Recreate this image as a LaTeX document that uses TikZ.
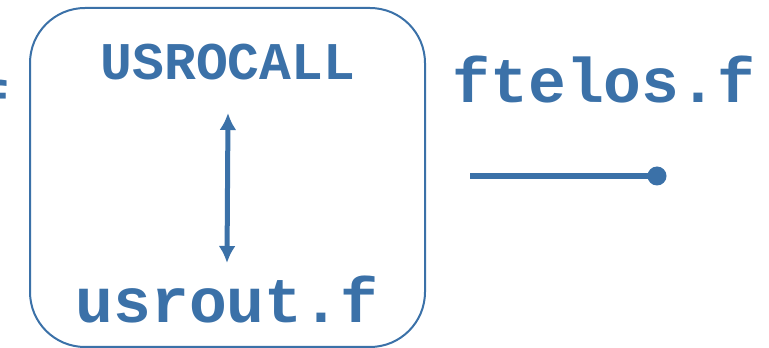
\documentclass[tikz,border=0pt]{standalone}
\usepackage{fontspec}
\setmonofont{Liberation Mono}
\usetikzlibrary{arrows.meta}
\definecolor{fblue}{RGB}{59,113,168}

\begin{document}
\begin{tikzpicture}[x=1pt,y=1pt,every node/.style={inner sep=0pt,text=fblue,font=\ttfamily\bfseries},
				big/.style={font=\fontsize{63}{63}\selectfont\ttfamily\bfseries},
				small/.style={font=\fontsize{53}{53}\selectfont\ttfamily\bfseries},
				duplex/.style={draw=fblue,line width=5pt,{Latex[length=17pt,width=17pt]}-{Latex[length=17pt,width=17pt]}}
				]
				\useasboundingbox (0,0) rectangle (769,348);
				% the box round the call
				\draw[fblue,line width=2pt,rounded corners=55pt] (30,1) rectangle (425,340);
				\node[big,anchor=base west](prev) at (-28,221) {f};
				\node[small,anchor=base](call) at (228,268) {USROCALL};
				\node[big,anchor=base](usrout) at (227,25) {usrout.f};
				\node[big,anchor=base](ftelos) at (604,245) {ftelos.f};
				\draw[duplex] ([yshift=-33pt]call.base) -- ([yshift=60pt]usrout.base);
				% line ending in a dot
				\coordinate (start) at (470,172);
				\node[circle,fill=fblue,minimum size=19pt](dot) at (657,172) {};
				\draw[fblue,line width=6pt] (start) -- (dot.center);
\end{tikzpicture}
\end{document}
